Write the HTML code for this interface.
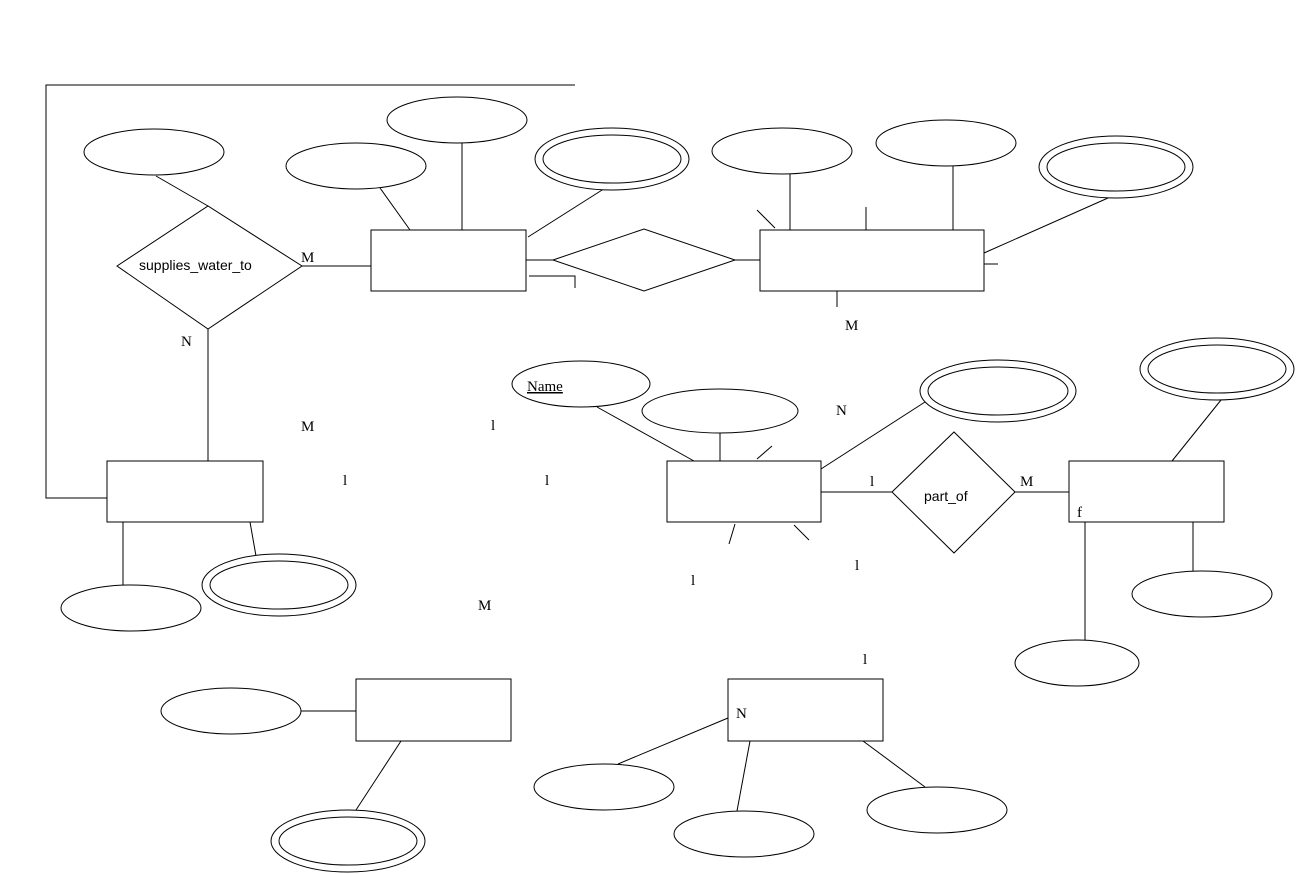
<!DOCTYPE html>
<html><head><meta charset="utf-8"><style>
html,body{margin:0;padding:0;background:#fff;}
svg{display:block;}
text{font-family:"Liberation Serif",serif;font-size:15px;fill:#000;}
.s{font-family:"Liberation Sans",sans-serif;font-size:14px;}
</style></head><body>
<svg width="1296" height="874" viewBox="0 0 1296 874" fill="none" stroke="#000" stroke-width="1">
<g>
<polyline points="575,85 46,85 46,498 107,498"/>
<line x1="156" y1="176" x2="208" y2="206"/>
<line x1="302" y1="266" x2="371" y2="266"/>
<line x1="208" y1="329" x2="208" y2="461"/>
<line x1="380" y1="188" x2="410" y2="230"/>
<line x1="462" y1="143" x2="462" y2="230"/>
<line x1="610" y1="185" x2="528" y2="237"/>
<line x1="526" y1="260" x2="553" y2="260"/>
<line x1="735" y1="260" x2="760" y2="260"/>
<line x1="790" y1="174" x2="790" y2="230"/>
<line x1="953" y1="166" x2="953" y2="230"/>
<line x1="1108" y1="198" x2="984" y2="253"/>
<polyline points="529,276 575,276 575,288"/>
<line x1="866" y1="207" x2="866" y2="230"/>
<line x1="757" y1="210" x2="775" y2="228"/>
<line x1="984" y1="264" x2="998" y2="264"/>
<line x1="837" y1="291" x2="837" y2="307"/>
<line x1="123" y1="522" x2="123" y2="586"/>
<line x1="250" y1="522" x2="256" y2="556"/>
<line x1="597" y1="407" x2="694" y2="461"/>
<line x1="720" y1="433" x2="720" y2="461"/>
<line x1="925" y1="402" x2="821" y2="469"/>
<line x1="821" y1="492" x2="892" y2="492"/>
<line x1="1015" y1="492" x2="1069" y2="492"/>
<line x1="1221" y1="400" x2="1172" y2="461"/>
<line x1="1193" y1="522" x2="1193" y2="571"/>
<line x1="1085" y1="522" x2="1085" y2="640"/>
<line x1="301" y1="711" x2="356" y2="711"/>
<line x1="401" y1="741" x2="356" y2="810"/>
<line x1="728" y1="718" x2="618" y2="764"/>
<line x1="750" y1="741" x2="737" y2="811"/>
<line x1="863" y1="741" x2="925" y2="787"/>
<line x1="735" y1="524" x2="729" y2="544"/>
<line x1="794" y1="525" x2="809" y2="540"/>
<line x1="757" y1="459" x2="772" y2="446"/>
</g>
<g>
<rect x="371" y="230" width="155" height="61"/>
<rect x="760" y="230" width="224" height="61"/>
<rect x="107" y="461" width="156" height="61"/>
<rect x="667" y="461" width="154" height="61"/>
<rect x="1069" y="461" width="155" height="61"/>
<rect x="356" y="679" width="155" height="62"/>
<rect x="728" y="679" width="155" height="62"/>
</g>
<g fill="#fff">
<polygon points="117,266 208,206 302,266 208,329"/>
<polygon points="553,260 644,229 735,260 644,291"/>
<polygon points="892,492 954,432 1015,492 954,553"/>
</g>
<g fill="#fff">
<ellipse cx="154" cy="152" rx="70" ry="23"/>
<ellipse cx="356" cy="166" rx="70" ry="23"/>
<ellipse cx="457" cy="120" rx="70" ry="23"/>
<ellipse cx="612" cy="159" rx="77" ry="31"/><ellipse cx="612" cy="159" rx="69" ry="24"/>
<ellipse cx="782" cy="151" rx="70" ry="23"/>
<ellipse cx="946" cy="143" rx="70" ry="23"/>
<ellipse cx="1116" cy="167" rx="77" ry="31"/><ellipse cx="1116" cy="167" rx="69" ry="24"/>
<ellipse cx="581" cy="384" rx="69" ry="23"/>
<ellipse cx="720" cy="411" rx="78" ry="22"/>
<ellipse cx="998" cy="391" rx="78" ry="31"/><ellipse cx="998" cy="391" rx="70" ry="24"/>
<ellipse cx="1217" cy="369" rx="77" ry="31"/><ellipse cx="1217" cy="369" rx="69" ry="24"/>
<ellipse cx="131" cy="608" rx="70" ry="23"/>
<ellipse cx="279" cy="585" rx="77" ry="31"/><ellipse cx="279" cy="585" rx="69" ry="24"/>
<ellipse cx="1202" cy="594" rx="70" ry="23"/>
<ellipse cx="1077" cy="663" rx="62" ry="23"/>
<ellipse cx="231" cy="711" rx="70" ry="23"/>
<ellipse cx="348" cy="841" rx="77" ry="31"/><ellipse cx="348" cy="841" rx="69" ry="24"/>
<ellipse cx="604" cy="787" rx="70" ry="23"/>
<ellipse cx="744" cy="834" rx="70" ry="23"/>
<ellipse cx="937" cy="810" rx="70" ry="23"/>
</g>
<g stroke="none">
<text class="s" x="139" y="270">supplies_water_to</text>
<text class="s" x="924" y="501">part_of</text>
<text x="527" y="391" text-decoration="underline">Name</text>
<text x="301" y="262">M</text>
<text x="181" y="346">N</text>
<text x="301" y="431">M</text>
<text x="836" y="415">N</text>
<text x="870" y="486">l</text>
<text x="1020" y="486">M</text>
<text x="478" y="610">M</text>
<text x="491" y="430">l</text>
<text x="343" y="485">l</text>
<text x="545" y="485">l</text>
<text x="691" y="585">l</text>
<text x="855" y="570">l</text>
<text x="863" y="664">l</text>
<text x="1077" y="517">f</text>
<text x="845" y="330">M</text>
<text x="736" y="718">N</text>
</g>
</svg>
</body></html>
